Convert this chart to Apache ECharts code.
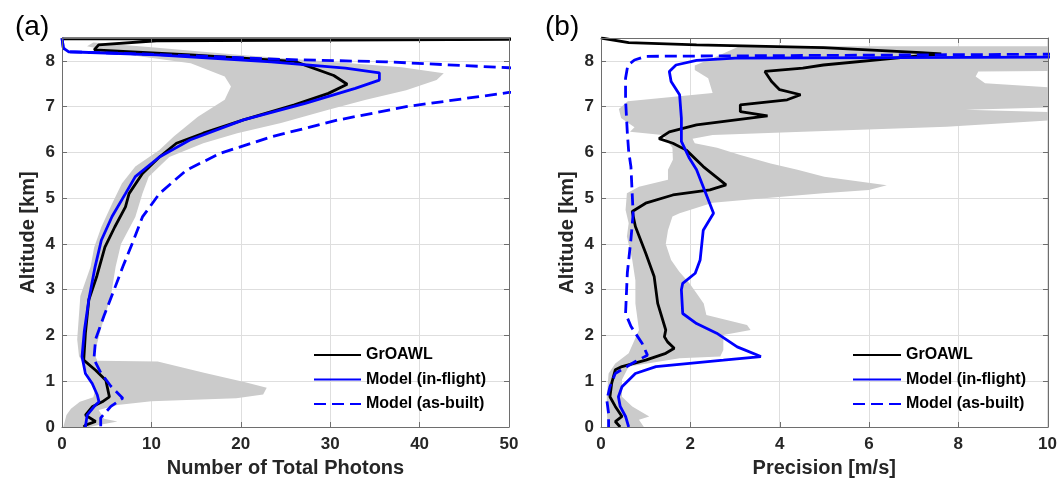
<!DOCTYPE html>
<html>
<head>
<meta charset="utf-8">
<script src="https://cdn.jsdelivr.net/npm/echarts@6/dist/echarts.min.js"></script>
<style>
html,body{margin:0;padding:0;background:#fff;}
#chart{width:1060px;height:484px;}
</style>
</head>
<body>
<div id="chart"></div>
<script>
// ---------- tick values ----------
const xTicksA = [0, 10, 20, 30, 40, 50];
const xTicksB = [0, 2, 4, 6, 8, 10];
const yTicks = [0, 1, 2, 3, 4, 5, 6, 7, 8];
const seriesNames = ['GrOAWL', 'Model (in-flight)', 'Model (as-built)'];

// ---------- panel (a): Number of total photons vs altitude [x, km] ----------
const aGrOAWL = [[0,8.48],[60,8.48],[60,8.45],[10.6,8.44],[4.1,8.35],[3.6,8.24],[14.4,8.13],[26,7.99],[30.4,7.68],[31.9,7.49],[29.8,7.29],[26,7.04],[20.3,6.71],[15.8,6.42],[12.8,6.2],[10.9,5.9],[9,5.54],[7.5,5.1],[7.1,4.81],[5.9,4.37],[4.8,3.93],[3.9,3.3],[3.0,2.78],[2.62,2.05],[2.43,1.46],[3.76,1.24],[4.9,1.02],[5.3,0.66],[4.5,0.55],[3.38,0.44],[2.62,0.26],[3.76,0.12],[2.62,0.04],[2.43,0]];
const aInFlight = [[0,8.5],[0.15,8.28],[0.72,8.2],[10.6,8.13],[23.4,7.98],[31.7,7.84],[35.5,7.74],[35.5,7.58],[32.8,7.4],[27.2,7.07],[20.3,6.71],[14.3,6.27],[10.9,5.9],[8.2,5.47],[7.1,5.1],[5.6,4.6],[4.4,4.08],[3.7,3.5],[3.0,2.78],[2.5,2.1],[2.24,1.54],[2.62,1.17],[3.38,0.95],[3.95,0.7],[4.14,0.55],[3.57,0.44],[2.81,0.26],[2.62,0]];
const aAsBuilt = [[0,8.5],[0.15,8.28],[0.72,8.2],[10.6,8.14],[25,8.03],[36.2,7.98],[50,7.85],[70,7.6],[50,7.31],[38.5,7.0],[30.9,6.71],[23.4,6.34],[17.7,5.98],[13.9,5.61],[10.9,5.1],[9,4.59],[7.9,4.03],[6.8,3.5],[5.85,3.01],[4.7,2.43],[3.76,1.92],[3.57,1.48],[4.33,1.19],[5.47,0.89],[6.8,0.63],[5.47,0.45],[4.33,0.2],[4.33,0]];
const aBandLeft = [[2.8,8.32],[8,8.12],[14.4,7.95],[18.2,7.66],[18.9,7.44],[18.2,7.15],[15.2,6.78],[12.5,6.35],[10.9,6.05],[8.2,5.69],[6.7,5.32],[5.6,4.88],[4.4,4.37],[3.6,3.93],[3.2,3.5],[2.05,2.86],[1.7,1.91],[1.9,1.55],[2.6,1.3],[3.0,1.1],[3.7,0.8],[3.5,0.65],[2.0,0.55],[1.0,0.4],[0.5,0.26],[0.15,0]];
const aBandRight = [[3.5,8.4],[10,8.3],[20,8.13],[30,7.98],[38,7.86],[42.7,7.73],[41.9,7.58],[38.5,7.36],[34,7.15],[29.8,6.93],[24.5,6.64],[19.6,6.42],[15.8,6.2],[12,5.9],[9.7,5.47],[9,5.1],[8.2,4.59],[6.6,4.0],[6.0,3.5],[5.47,2.86],[4.33,2.13],[3.95,1.84],[3.57,1.62],[3.95,1.45],[10.7,1.43],[16,1.18],[20.5,0.98],[22.9,0.86],[22.5,0.71],[19.5,0.63],[10.0,0.56],[6.2,0.48],[4.1,0.37],[4.7,0.18],[6.2,0.12],[4.0,0.04],[3.0,0]];

// ---------- panel (b): Precision [m/s] vs altitude ----------
const bGrOAWL = [[0,8.5],[0.62,8.4],[2.14,8.35],[4.98,8.29],[7.17,8.18],[7.62,8.15],[7.0,8.1],[4.98,7.91],[4.52,7.84],[3.67,7.77],[3.82,7.55],[4.0,7.37],[4.47,7.26],[4.17,7.15],[3.12,7.04],[3.12,6.89],[3.73,6.8],[2.14,6.6],[1.53,6.45],[1.3,6.3],[1.61,6.2],[1.91,6.05],[2.29,5.69],[2.8,5.29],[2.44,5.18],[1.61,5.07],[1.0,4.89],[0.7,4.71],[0.77,4.38],[1.0,3.8],[1.19,3.29],[1.27,2.7],[1.45,2.12],[1.42,1.97],[1.49,1.86],[1.64,1.72],[1.45,1.61],[1.0,1.46],[0.47,1.32],[0.32,1.25],[0.24,0.96],[0.2,0.66],[0.32,0.45],[0.47,0.23],[0.32,0.12],[0.43,0]];
const bInFlight = [[15,8.1],[3,8.06],[2.14,8.01],[1.68,7.91],[1.53,7.77],[1.57,7.55],[1.76,7.26],[1.8,6.75],[1.8,6.24],[1.98,5.87],[2.14,5.62],[2.52,4.67],[2.29,4.3],[2.22,3.65],[2.11,3.36],[1.83,3.14],[1.8,3.0],[1.83,2.48],[2.14,2.26],[2.59,2.05],[3.05,1.75],[3.58,1.54],[2.74,1.46],[1.23,1.32],[0.77,1.17],[0.47,0.88],[0.39,0.66],[0.43,0.45],[0.55,0.23],[0.62,0]];
const bAsBuilt = [[15,8.17],[1.0,8.1],[0.75,8.02],[0.6,7.9],[0.55,7.62],[0.55,7.15],[0.59,6.42],[0.62,6.02],[0.67,5.69],[0.72,4.66],[0.67,4.1],[0.59,3.37],[0.55,2.48],[0.67,2.2],[0.77,2.05],[0.92,1.83],[1.04,1.57],[0.77,1.43],[0.32,1.17],[0.2,0.88],[0.13,0.59],[0.17,0.3],[0.17,0]];
const bBandLeft = [[3.1,8.32],[2.6,8.1],[2.1,7.9],[2.1,7.8],[2.4,7.62],[2.5,7.3],[0.6,7.12],[0.4,6.95],[0.45,6.75],[0.75,6.55],[0.65,6.45],[1.38,6.38],[1.6,6.1],[1.61,5.84],[1.5,5.62],[1.5,5.4],[0.85,5.25],[0.58,5.11],[0.55,4.74],[0.62,4.45],[0.58,4.16],[0.7,3.65],[0.77,3.2],[0.77,2.7],[0.85,2.12],[0.62,1.61],[0.32,1.39],[0.17,1.17],[0.13,0.66],[0.13,0.37],[0.15,0]];
const bBandRight = [[3.1,8.32],[12,8.32],[12,7.79],[8.45,7.77],[8.39,7.66],[8.6,7.51],[10.1,7.42],[12,7.4],[12,7.04],[8.16,6.93],[12,6.83],[12,6.72],[10.1,6.7],[7.74,6.56],[4.52,6.45],[2.5,6.38],[2.05,6.3],[2.1,6.2],[2.6,6.1],[3.1,5.95],[3.8,5.76],[4.4,5.62],[5.0,5.47],[6.4,5.28],[6.0,5.18],[4.97,5.11],[3.65,5.0],[2.5,4.9],[1.76,4.67],[1.6,4.6],[1.5,4.3],[1.45,4.0],[1.57,3.65],[1.75,3.4],[1.98,3.14],[2.14,2.92],[2.3,2.7],[2.36,2.45],[3.27,2.23],[3.35,2.12],[2.74,2.01],[2.74,1.68],[2.67,1.54],[1.76,1.5],[0.62,1.32],[0.47,1.03],[0.47,0.66],[0.7,0.45],[1.08,0.23],[0.85,0.16],[0.96,0]];

// ---------- build chart ----------
const FONT = 'Liberation Sans, Arial, Helvetica, sans-serif';
const TXT = '#262626';
const BOX = '#6e6e6e';
const GRIDC = '#dedede';
const BAND = '#cbcbcb';

function mainX(grid, ticks, name) {
  return {
    type: 'value', gridIndex: grid, min: ticks[0], max: ticks[ticks.length-1],
    interval: ticks[1]-ticks[0],
    axisLine: {show: false}, axisTick: {show: false},
    axisLabel: {color: TXT, fontSize: 17, fontWeight: 'bold', fontFamily: FONT, margin: 9},
    splitLine: {show: true, lineStyle: {color: GRIDC, width: 1}},
    name: name, nameLocation: 'middle', nameGap: 31,
    nameTextStyle: {color: TXT, fontSize: 20, fontWeight: 'bold', fontFamily: FONT}
  };
}
function mainY(grid, name) {
  return {
    type: 'value', gridIndex: grid, min: yTicks[0], max: 8.5, interval: yTicks[1]-yTicks[0],
    axisLine: {show: false}, axisTick: {show: false},
    axisLabel: {color: TXT, fontSize: 17, fontWeight: 'bold', fontFamily: FONT, margin: 7,
      formatter: v => (Math.abs(v - Math.round(v)) < 1e-6 ? String(Math.round(v)) : '')},
    splitLine: {show: true, lineStyle: {color: GRIDC, width: 1}},
    name: name, nameLocation: 'middle', nameGap: 24,
    nameTextStyle: {color: TXT, fontSize: 20, fontWeight: 'bold', fontFamily: FONT}
  };
}
function boxAxis(grid, pos, min, max, interval) {
  return {
    type: 'value', gridIndex: grid, position: pos, min: min, max: max, interval: interval, z: 10,
    axisLine: {show: true, onZero: false, lineStyle: {color: BOX, width: 1}},
    axisTick: {show: true, inside: true, length: 5, lineStyle: {color: BOX, width: 1}},
    axisLabel: {show: false}, splitLine: {show: false}
  };
}

function bandSeries(xi, yi, left, right) {
  const poly = right.concat(left.slice().reverse());
  return {
    type: 'custom', xAxisIndex: xi, yAxisIndex: yi, clip: true, z: 1, silent: true,
    data: [[0, 0]],
    renderItem: function (params, api) {
      const pts = poly.map(p => api.coord(p));
      return {type: 'polygon', shape: {points: pts}, style: {fill: BAND, stroke: null}};
    }
  };
}
function lineSeries(name, xi, yi, data, color, dashed, z) {
  return {
    name: name, type: 'line', xAxisIndex: xi, yAxisIndex: yi, data: data,
    symbol: 'none', showSymbol: false, clip: true, z: z, silent: true,
    lineStyle: {color: color, width: 2.8, type: dashed ? [12, 6] : 'solid'},
    itemStyle: {color: color}
  };
}
function legendAt(left, iw) {
  return {
    data: seriesNames, orient: 'vertical', left: left, top: 347, padding: 0,
    itemWidth: iw, itemHeight: 14, itemGap: 8.5, selectedMode: false,
    itemStyle: {color: 'rgba(0,0,0,0)', borderWidth: 0, opacity: 0},
    textStyle: {color: '#000', fontSize: 16, fontWeight: 'bold', fontFamily: FONT, lineHeight: 14}
  };
}

const gA = {left: 62, top: 38, width: 447, height: 389};
const gB = {left: 601, top: 38, width: 447, height: 389};

const option = {
  animation: false,
  backgroundColor: '#fff',
  title: [
    {text: '(a)', left: 10, top: 8, textStyle: {fontSize: 28, fontWeight: 'normal', color: '#000', fontFamily: FONT}},
    {text: '(b)', left: 540, top: 8, textStyle: {fontSize: 28, fontWeight: 'normal', color: '#000', fontFamily: FONT}}
  ],
  grid: [
    Object.assign({}, gA), Object.assign({}, gB),
    Object.assign({z: 10}, gA), Object.assign({z: 10}, gB)
  ],
  xAxis: [
    mainX(0, xTicksA, 'Number of Total Photons'),
    mainX(1, xTicksB, 'Precision [m/s]'),
    boxAxis(2, 'bottom', 0, 50, 10), boxAxis(2, 'top', 0, 50, 10),
    boxAxis(3, 'bottom', 0, 10, 2), boxAxis(3, 'top', 0, 10, 2)
  ],
  yAxis: [
    mainY(0, 'Altitude [km]'),
    mainY(1, 'Altitude [km]'),
    boxAxis(2, 'left', 0, 8.5, 1), boxAxis(2, 'right', 0, 8.5, 1),
    boxAxis(3, 'left', 0, 8.5, 1), boxAxis(3, 'right', 0, 8.5, 1)
  ],
  legend: [legendAt(313, 47), legendAt(852, 48)],
  series: [
    bandSeries(0, 0, aBandLeft, aBandRight),
    lineSeries(seriesNames[0], 0, 0, aGrOAWL, '#000000', false, 3),
    lineSeries(seriesNames[1], 0, 0, aInFlight, '#0000ff', false, 4),
    lineSeries(seriesNames[2], 0, 0, aAsBuilt, '#0000ff', true, 5),
    bandSeries(1, 1, bBandLeft, bBandRight),
    lineSeries(seriesNames[0], 1, 1, bGrOAWL, '#000000', false, 3),
    lineSeries(seriesNames[1], 1, 1, bInFlight, '#0000ff', false, 4),
    lineSeries(seriesNames[2], 1, 1, bAsBuilt, '#0000ff', true, 5)
  ]
};

const chart = echarts.init(document.getElementById('chart'), null, {renderer: 'canvas'});
chart.setOption(option);
</script>
</body>
</html>
